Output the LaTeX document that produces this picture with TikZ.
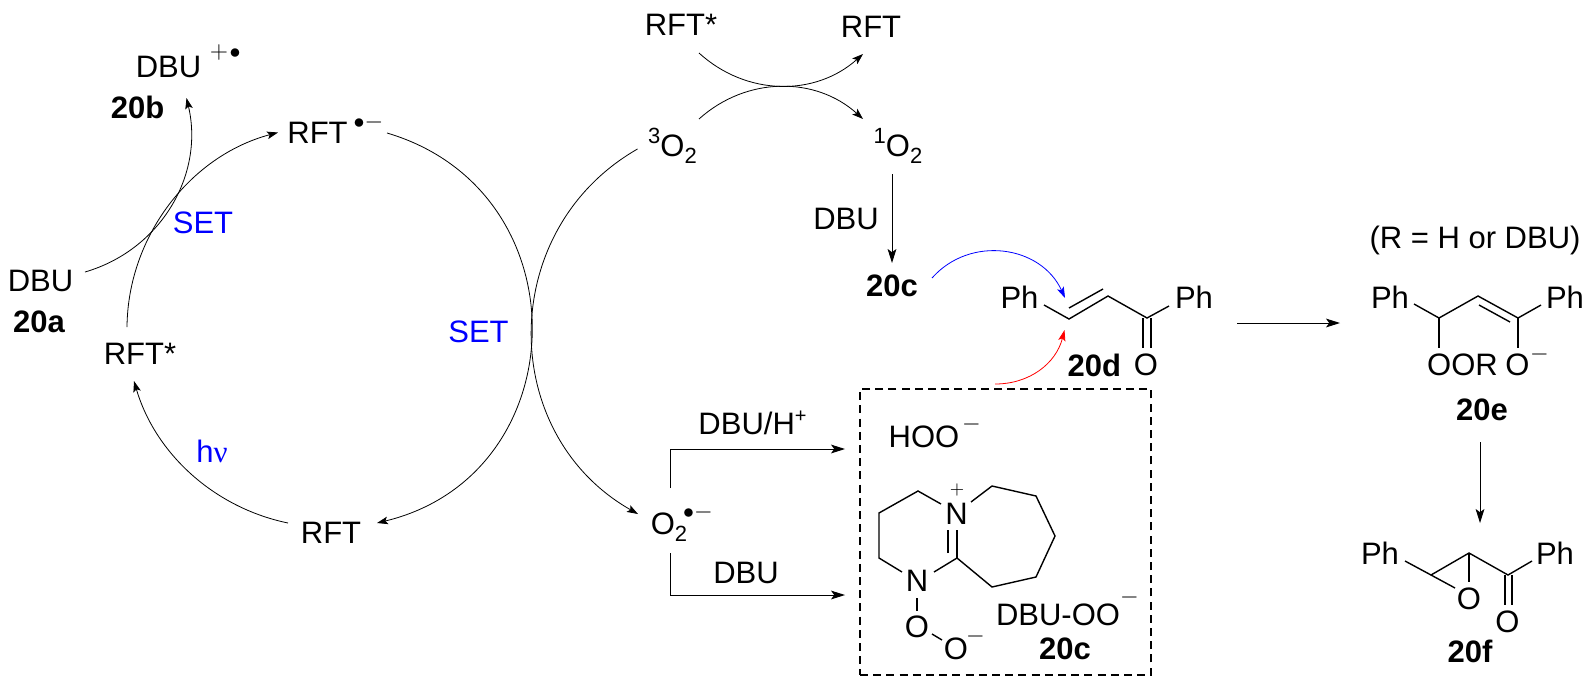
\documentclass[tikz,border=0pt]{standalone}
\usepackage{fontspec}
\setmainfont{Liberation Sans}
\newfontfamily\greekfont{Liberation Serif}
\usepackage{xcolor}
\definecolor{cSet}{HTML}{0000FF}
\definecolor{cHit}{HTML}{FF0000}
\usetikzlibrary{positioning,arrows.meta}
\newcommand{\upfig}[1]{\raisebox{6.5pt}{\fontsize{11pt}{12pt}\selectfont #1}}
\newcommand{\lowfig}[1]{\raisebox{-3.5pt}{\fontsize{11pt}{12pt}\selectfont #1}}
\tikzset{
  mol-text/.style={inner sep=0pt,font=\fontsize{15.5pt}{18pt}\selectfont},
  mol-label/.style={inner sep=0pt,font=\fontsize{15.5pt}{18pt}\selectfont\bfseries},
  mol-set/.style={mol-text,text=cSet},
  mol-charge/.style={inner sep=0pt,font=\fontsize{12pt}{14pt}\selectfont},
  mol-dot/.style={inner sep=0pt,font=\fontsize{10.95pt}{13pt}\selectfont},
  bond/.style={line width=0.7pt},
  arrow/.style={-{Stealth[length=7pt,width=4.4pt,inset=1.6pt]},line width=0.5pt},
  arrow-arc/.style={-{Stealth[length=5.5pt,width=3.8pt,inset=1.2pt]},line width=0.4pt},
  arrow-blue/.style={arrow-arc,draw=cSet,-{Stealth[length=5.5pt,width=3.6pt,inset=1.2pt,fill=cSet]}},
  arrow-red/.style={arrow-arc,draw=cHit,-{Stealth[length=5.5pt,width=3.6pt,inset=1.2pt,fill=cHit]}},
  box-dash/.style={draw,line width=0.6pt,dash pattern=on 4pt off 2.6pt,inner sep=0pt,
    minimum width=145.5pt,minimum height=143pt},
}
\begin{document}
\begin{tikzpicture}[x=0.5pt,y=-0.5pt]
  \useasboundingbox (0,0) rectangle (1593,686);
  % left cycle
  \node[mol-text] (dbub) at (168.5,66.5) {DBU};
  \node[mol-charge] (dbubp) at (219,52) {$+$};
  \node[mol-dot] (dbubd) at (235,54) {$\bullet$};
  \node[mol-label] (lab20b) at (137.5,107) {20b};
  \node[mol-text] (rftrad) at (317.5,132.5) {RFT};
  \node[mol-dot] (rftradd) at (359,124) {$\bullet$};
  \node[mol-charge] (rftradm) at (374,122) {$-$};
  \node[mol-text] (dbua) at (40.5,281) {DBU};
  \node[mol-label,below=9pt of dbua,xshift=-0.8pt] (lab20a) {20a};
  \node[mol-text] (rftstar) at (140,353.5) {RFT*};
  \node[mol-text] (rftbot) at (331,533) {RFT};
  \node[mol-set] (setl) at (203,222.5) {SET};
  \node[mol-set] (setr) at (478.5,332) {SET};
  \node[mol-set] (hnu) at (212,451) {h{\greekfont ν}};
  \draw[arrow-arc] ([shift={(44.5,-9)}]dbua.center) to[bend right=43.5] ([shift={(18,31.5)}]dbub.center);
  \draw[arrow-arc] ([shift={(-13,-26.5)}]rftstar.center) to[bend left=37.3,looseness=.94] ([shift={(-39.5,0)}]rftrad.center);
  \draw[arrow-arc] ([shift={(69.5,0.5)}]rftrad.center) to[bend left=75,looseness=1.35] ([shift={(46,-10)}]rftbot.center);
  \draw[arrow-arc] ([shift={(-43,-10)}]rftbot.center) to[bend left=31,looseness=.92] ([shift={(-6,27.5)}]rftstar.center);
  % oxygen
  \node[mol-text] (rftstarb) at (681,24.5) {RFT*};
  \node[mol-text] (rfttop) at (871,26.5) {RFT};
  \node[mol-text] (otrip) at (672.5,145.5) {\upfig{3}O\lowfig{2}};
  \node[mol-text] (osing) at (898,145.5) {\upfig{1}O\lowfig{2}};
  \node[mol-text] (osup) at (669,527.5) {O\lowfig{2}};
  \node[mol-dot] (osupd) at (688.5,514) {$\bullet$};
  \node[mol-charge] (osupm) at (703.5,512) {$-$};
  \node[mol-text] (dbuo) at (846,218.5) {DBU};
  \node[mol-label] (lab20cup) at (892,286) {20c};
  \node[mol-text] (dbuh) at (752.5,422.5) {DBU/H\raisebox{6pt}{\fontsize{10pt}{12pt}\selectfont +}};
  \node[mol-text] (dbun) at (746,572.5) {DBU};
  \draw[arrow-arc] ([shift={(18,28.5)}]rftstarb.center) to[bend right=42] ([shift={(-8,27.5)}]rfttop.center);
  \draw[arrow-arc] ([shift={(26.5,-26.5)}]otrip.center) to[bend left=42] ([shift={(-35,-26.5)}]osing.center);
  \draw[arrow-arc] ([shift={(-35,3.5)}]otrip.center) to[bend right=60.3,looseness=1.14] ([shift={(-31,-13.5)}]osup.center);
  \draw[arrow] ([shift={(-6,28.5)}]osing.center) -- ([shift={(0,-23)}]lab20cup.center);
  % box
  \node[box-dash] (boxc) at (1005.5,532) {};
  \node[mol-text] (hoo) at (924,436.5) {HOO};
  \node[mol-charge] (hoom) at (971.5,424) {$-$};
  \node[mol-text] (nplus) at (956.5,514) {N};
  \node[mol-charge,font=\fontsize{9pt}{11pt}\selectfont] (nplusp) at (957,490) {$+$};
  \node[mol-text] (nring) at (917,581) {N};
  \node[mol-text] (oa) at (917,627) {O};
  \node[mol-text] (ob) at (956,649) {O};
  \node[mol-charge] (obm) at (975.5,636) {$-$};
  \node[mol-text] (dbuoo) at (1058,615) {DBU-OO};
  \node[mol-charge] (dbuoom) at (1129.5,597) {$-$};
  \node[mol-label] (lab20c) at (1065,649) {20c};
  \coordinate (ra) at (918,491);
  \coordinate (rb) at (879,513);
  \coordinate (rc) at (879,558);
  \coordinate (rd) at (957,558);
  \coordinate (sa) at (992,486);
  \coordinate (sb) at (1036,496);
  \coordinate (sc) at (1055,536);
  \coordinate (sd) at (1036,577);
  \coordinate (se) at (992,587);
  \draw[bond] ([shift={(-15.5,-10)}]nplus.center) -- (ra) -- (rb) -- (rc) -- ([shift={(-15,-9)}]nring.center);
  \draw[bond] ([shift={(17,-9)}]nring.center) -- (rd) -- (se) -- (sd) -- (sc) -- (sb) -- (sa) -- ([shift={(14.5,-12)}]nplus.center);
  \draw[bond] (rd) -- ([shift={(0.5,16)}]nplus.center);
  \draw[bond] ([shift={(-9,-5)}]rd) -- ([shift={(-8.5,16)}]nplus.center);
  \draw[bond] ([shift={(0,17)}]nring.center) -- ([shift={(0,-16)}]oa.center);
  \draw[bond] ([shift={(15,7)}]oa.center) -- ([shift={(-14,-9)}]ob.center);
  \draw[arrow] ([shift={(1,-39.5)}]osup.center) |- ([shift={(-160.5,-83)}]boxc.center);
  \draw[arrow] ([shift={(1,25.5)}]osup.center) |- ([shift={(-160.5,63)}]boxc.center);
  % enone 20d
  \node[mol-text] (phda) at (1019.5,297) {Ph};
  \node[mol-text] (phdb) at (1194,297) {Ph};
  \node[mol-text] (od) at (1146,365) {O};
  \node[mol-label,left=6pt of od] (lab20d) {20d};
  \coordinate (da) at (1069,319);
  \coordinate (db) at (1108,296);
  \coordinate (dc) at (1147,318);
  \draw[bond] ([shift={(24.5,8)}]phda.center) -- (da) -- (db) -- (dc) -- ([shift={(-25,9)}]phdb.center);
  \draw[bond] ([shift={(0,-11)}]da) -- ([shift={(-5,-7)}]db);
  \draw[bond] ([shift={(-4,0)}]dc) -- ([shift={(-3,-17)}]od.center);
  \draw[bond] ([shift={(4,0)}]dc) -- ([shift={(5,-17)}]od.center);
  \draw[arrow-blue] ([shift={(40,-8)}]lab20cup.center) to[bend left=57,looseness=1.1] ([shift={(-4,-21)}]da);
  \draw[arrow-red] ([shift={(-10.5,-148)}]boxc.center) to[bend right=38] ([shift={(-4.5,11)}]da);
  % 20e
  \node[mol-text] (rnote) at (1475,240) {(R = H or DBU)};
  \node[mol-text] (phea) at (1390,297.5) {Ph};
  \node[mol-text] (pheb) at (1565,297.5) {Ph};
  \node[mol-text] (oor) at (1462.5,365) {OOR};
  \node[mol-text] (oe) at (1517.5,365) {O};
  \node[mol-charge] (oem) at (1539.5,354) {$-$};
  \node[mol-label] (lab20e) at (1482,410) {20e};
  \coordinate (ea) at (1439,318);
  \coordinate (eb) at (1478,296);
  \coordinate (ec) at (1518,318);
  \draw[bond] ([shift={(24,6.5)}]phea.center) -- (ea) -- (eb) -- (ec) -- ([shift={(-24,7.5)}]pheb.center);
  \draw[bond] ([shift={(1,9)}]eb) -- ([shift={(-8,4)}]ec);
  \draw[bond] (ea) -- ([shift={(-23.5,-17)}]oor.center);
  \draw[bond] (ec) -- ([shift={(0.5,-17)}]oe.center);
  \draw[arrow] ([shift={(43,26)}]phdb.center) -- ([shift={(-50,25.5)}]phea.center);
  % epoxide 20f
  \node[mol-text] (phfa) at (1380,553) {Ph};
  \node[mol-text] (phfb) at (1555,553) {Ph};
  \node[mol-text] (ofa) at (1469,599) {O};
  \node[mol-text] (ofb) at (1507.5,622) {O};
  \node[mol-label] (lab20f) at (1470,651) {20f};
  \coordinate (fa) at (1431,575);
  \coordinate (fb) at (1469,553);
  \coordinate (fc) at (1508,575);
  \draw[bond] ([shift={(25,8)}]phfa.center) -- (fa) -- (fb) -- (fc) -- ([shift={(-23,8)}]phfb.center);
  \draw[bond] (fa) -- ([shift={(-14,-11)}]ofa.center);
  \draw[bond] (fb) -- ([shift={(0,-17)}]ofa.center);
  \draw[bond] ([shift={(-3,0)}]fc) -- ([shift={(-2.5,-17)}]ofb.center);
  \draw[bond] ([shift={(4,0)}]fc) -- ([shift={(4.5,-17)}]ofb.center);
  \draw[arrow] ([shift={(-2,32)}]lab20e.center) -- ([shift={(11,-30)}]fb);
\end{tikzpicture}
\end{document}
